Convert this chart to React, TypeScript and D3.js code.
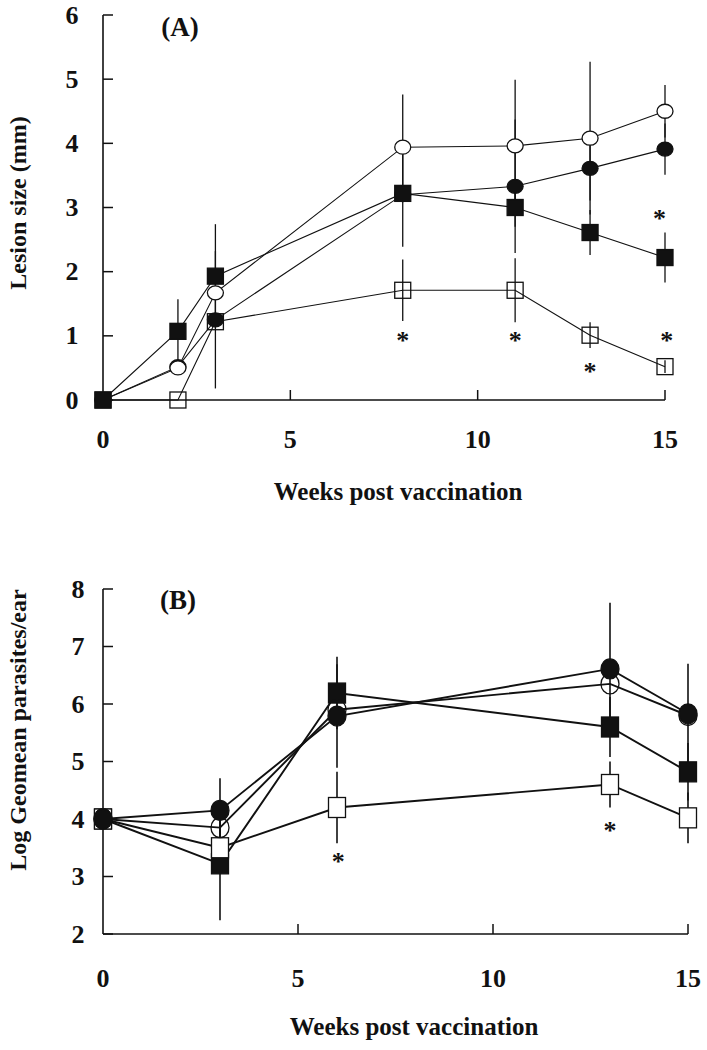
import React, { useEffect, useRef } from "react";
import * as d3 from "d3";

// panel A: lesion size (mm)
const weeksA = [0, 2, 3, 8, 11, 13, 15];
const openCircleA = [0, 0.5, 1.67, 3.94, 3.96, 4.08, 4.5];
const filledCircleA = [0, 0.52, 1.25, 3.2, 3.33, 3.61, 3.91];
const filledSquareA = [0, 1.07, 1.93, 3.22, 3.0, 2.61, 2.22];
const openSquareA = [0, 0, 1.22, 1.71, 1.71, 1.01, 0.52];
const openCircleErrA = [0, 0, 0, 0.82, 1.03, 1.19, 0.41];
const filledCircleErrA = [0, 0, 1.07, 0, 1.04, 0.5, 0.4];
const filledSquareErrA = [0, 0.5, 0.81, 0.83, 0.3, 0.35, 0.39];
const openSquareErrA = [0, 0, 0, 0.48, 0.5, 0.2, 0.1];
const starWeeksA = [8, 11, 13, 14.85, 15.05];
const starValsA = [0.98, 0.98, 0.5, 2.88, 0.98];
const yTicksA = [0, 1, 2, 3, 4, 5, 6];

// panel B: log geomean parasites/ear
const weeksB = [0, 3, 6, 13, 15];
const filledCircleB = [4.0, 4.15, 5.79, 6.61, 5.83];
const openCircleB = [4.0, 3.85, 5.9, 6.35, 5.8];
const filledSquareB = [4.0, 3.22, 6.19, 5.6, 4.82];
const openSquareB = [4.0, 3.5, 4.2, 4.6, 4.02];
const filledCircleErrB = [0, 0.56, 0.9, 1.15, 0.87];
const openCircleErrB = [0, 0.15, 0, 0, 0];
const filledSquareErrB = [0, 0.98, 0.63, 0.52, 0.5];
const openSquareErrB = [0, 0, 0.62, 0.4, 0.44];
const starWeeksB = [6.03, 13];
const starValsB = [3.32, 3.86];
const yTicksB = [2, 3, 4, 5, 6, 7, 8];

const xTicks = [0, 5, 10, 15];
const FONT = "'Liberation Serif', 'Times New Roman', serif";

function drawPanel(svg, cfg) {
  const x = d3.scaleLinear().domain([0, 15]).range([103, cfg.xEnd]);
  const y = d3.scaleLinear().domain(cfg.yDomain).range(cfg.yRange);
  const g = svg.append("g");

  // axes
  g.append("line").attr("x1", x(0)).attr("x2", x(0))
    .attr("y1", y(cfg.yDomain[1])).attr("y2", y(cfg.yDomain[0]))
    .attr("stroke", "#111").attr("stroke-width", 1.6);
  g.append("line").attr("x1", x(0)).attr("x2", x(15))
    .attr("y1", y(cfg.yDomain[0])).attr("y2", y(cfg.yDomain[0]))
    .attr("stroke", "#111").attr("stroke-width", 1.6);

  g.selectAll(".yt").data(cfg.yTicks).enter().append("line")
    .attr("x1", x(0)).attr("x2", x(0) + 10)
    .attr("y1", (d) => y(d)).attr("y2", (d) => y(d))
    .attr("stroke", "#111").attr("stroke-width", 1.5);
  g.selectAll(".yl").data(cfg.yTicks).enter().append("text")
    .attr("x", cfg.labelX).attr("y", (d) => y(d) + 8.5)
    .attr("text-anchor", "middle")
    .attr("font-family", FONT).attr("font-weight", "bold").attr("font-size", 26)
    .attr("fill", "#111")
    .text((d) => d);

  g.selectAll(".xt").data(xTicks.slice(1)).enter().append("line")
    .attr("x1", (d) => x(d)).attr("x2", (d) => x(d))
    .attr("y1", y(cfg.yDomain[0])).attr("y2", y(cfg.yDomain[0]) - 10)
    .attr("stroke", "#111").attr("stroke-width", 1.5);
  g.selectAll(".xl").data(xTicks).enter().append("text")
    .attr("x", (d) => x(d)).attr("y", y(cfg.yDomain[0]) + cfg.xLabelOff)
    .attr("text-anchor", "middle")
    .attr("font-family", FONT).attr("font-weight", "bold").attr("font-size", 26)
    .attr("fill", "#111")
    .text((d) => d);

  g.append("text")
    .attr("x", cfg.titleX).attr("y", cfg.titleY)
    .attr("text-anchor", "middle")
    .attr("font-family", FONT).attr("font-weight", "bold").attr("font-size", 25)
    .attr("fill", "#111")
    .text("Weeks post vaccination");

  g.append("text")
    .attr("transform", `translate(26,${cfg.yLabelY}) rotate(-90)`)
    .attr("text-anchor", "middle")
    .attr("font-family", FONT).attr("font-weight", "bold").attr("font-size", 24)
    .attr("fill", "#111")
    .text(cfg.yLabel);

  g.append("text")
    .attr("x", cfg.tagX).attr("y", cfg.tagY)
    .attr("text-anchor", "middle")
    .attr("font-family", FONT).attr("font-weight", "bold").attr("font-size", 27)
    .attr("fill", "#111")
    .text(cfg.tag);

  // error bars
  cfg.series.forEach((s) => {
    s.vals.forEach((v, i) => {
      const e = s.err[i];
      if (!e) return;
      g.append("line")
        .attr("x1", x(cfg.weeks[i])).attr("x2", x(cfg.weeks[i]))
        .attr("y1", y(v - e)).attr("y2", y(v + e))
        .attr("stroke", "#111").attr("stroke-width", cfg.barWidth);
    });
  });

  // lines
  const line = d3.line().x((d) => x(d[0])).y((d) => y(d[1]));
  cfg.series.forEach((s) => {
    g.append("path")
      .attr("d", line(cfg.weeks.map((w, i) => [w, s.vals[i]])))
      .attr("fill", "none").attr("stroke", "#111")
      .attr("stroke-width", cfg.lineWidth);
  });

  // markers
  cfg.series.forEach((s) => {
    s.vals.forEach((v, i) => {
      const cx = x(cfg.weeks[i]);
      const cy = y(v);
      const fill = s.filled ? "#111" : s.hollow ? "none" : "#fff";
      if (s.shape === "square") {
        g.append("rect")
          .attr("x", cx - cfg.sqW / 2).attr("y", cy - cfg.sqH / 2)
          .attr("width", cfg.sqW).attr("height", cfg.sqH)
          .attr("fill", fill).attr("stroke", "#111").attr("stroke-width", 1.3);
      } else {
        g.append("ellipse")
          .attr("cx", cx).attr("cy", cy)
          .attr("rx", cfg.rx).attr("ry", cfg.ry)
          .attr("fill", fill).attr("stroke", "#111").attr("stroke-width", 1.3);
      }
    });
  });

  // asterisks
  cfg.starWeeks.forEach((w, i) => {
    g.append("text")
      .attr("x", x(w)).attr("y", y(cfg.starVals[i]) + 12)
      .attr("text-anchor", "middle")
      .attr("font-family", FONT).attr("font-weight", "bold").attr("font-size", 26)
      .attr("fill", "#111")
      .text("*");
  });
}

export default function App() {
  const ref = useRef(null);

  useEffect(() => {
    const svg = d3.select(ref.current);
    svg.selectAll("*").remove();

    drawPanel(svg, {
      xEnd: 665, yDomain: [0, 6], yRange: [400, 15], yTicks: yTicksA,
      labelX: 72, xLabelOff: 48, titleX: 398, titleY: 500,
      yLabel: "Lesion size (mm)", yLabelY: 203, tag: "(A)", tagX: 180, tagY: 36,
      weeks: weeksA, lineWidth: 1.1, barWidth: 1.3,
      sqW: 16, sqH: 16, rx: 8, ry: 7,
      starWeeks: starWeeksA, starVals: starValsA,
      series: [
        { vals: openSquareA, err: openSquareErrA, shape: "square", filled: false, hollow: true },
        { vals: filledCircleA, err: filledCircleErrA, shape: "circle", filled: true },
        { vals: openCircleA, err: openCircleErrA, shape: "circle", filled: false },
        { vals: filledSquareA, err: filledSquareErrA, shape: "square", filled: true },
      ],
    });

    drawPanel(svg, {
      xEnd: 688, yDomain: [2, 8], yRange: [934, 589], yTicks: yTicksB,
      labelX: 78, xLabelOff: 53, titleX: 414, titleY: 1035,
      yLabel: "Log Geomean parasites/ear", yLabelY: 730, tag: "(B)", tagX: 178, tagY: 609,
      weeks: weeksB, lineWidth: 1.9, barWidth: 1.6,
      sqW: 17, sqH: 20, rx: 9, ry: 10,
      starWeeks: starWeeksB, starVals: starValsB,
      series: [
        { vals: filledSquareB, err: filledSquareErrB, shape: "square", filled: true },
        { vals: openSquareB, err: openSquareErrB, shape: "square", filled: false },
        { vals: openCircleB, err: openCircleErrB, shape: "circle", filled: false, hollow: true },
        { vals: filledCircleB, err: filledCircleErrB, shape: "circle", filled: true },
      ],
    });
  }, []);

  return (
    <svg
      ref={ref}
      width={707}
      height={1050}
      style={{ position: "absolute", left: 0, top: 0, background: "#fff" }}
    />
  );
}
